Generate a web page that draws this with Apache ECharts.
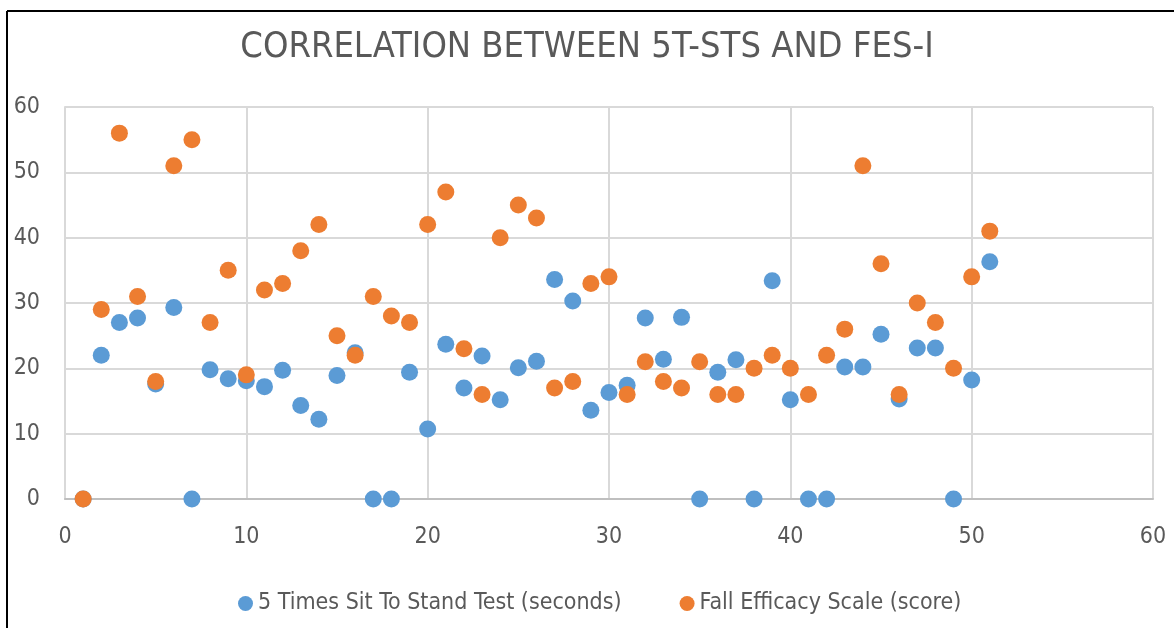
<html>
<head>
<meta charset="utf-8">
<title>Correlation between 5T-STS and FES-I</title>
<script src="https://cdn.jsdelivr.net/npm/echarts@6/dist/echarts.min.js"></script>
</head>
<body>
<style>
    html, body, #main {
        width: 100%;
        height: 100%;
        margin: 0;
        background: #fff;
    }
</style>
<div id="main"></div>

<script>

// participant number 1..51
var participants = [];
for (var i = 1; i <= 51; i++) participants.push(i);

// 5 Times Sit To Stand Test (seconds)
var stsValues = [
    0, 22, 27, 27.7, 17.6, 29.3, 0, 19.8, 18.4, 18.1,
    17.2, 19.7, 14.3, 12.2, 18.9, 22.4, 0, 0, 19.4, 10.7,
    23.7, 17, 21.9, 15.2, 20.1, 21.1, 33.6, 30.3, 13.6, 16.3,
    17.4, 27.7, 21.4, 27.8, 0, 19.4, 21.3, 0, 33.4, 15.2,
    0, 0, 20.2, 20.2, 25.2, 15.3, 23.1, 23.1, 0, 18.2,
    36.3
];

// Fall Efficacy Scale (score)
var fesValues = [
    0, 29, 56, 31, 18, 51, 55, 27, 35, 19,
    32, 33, 38, 42, 25, 22, 31, 28, 27, 42,
    47, 23, 16, 40, 45, 43, 17, 18, 33, 34,
    16, 21, 18, 17, 21, 16, 16, 20, 22, 20,
    16, 22, 26, 51, 36, 16, 30, 27, 20, 34,
    41
];

var seriesNames = ['5 Times Sit To Stand Test (seconds)', 'Fall Efficacy Scale (score)'];

function pairs(values) {
    return participants.map(function(p, i) { return [p, values[i]]; });
}

var myChart = echarts.init(document.getElementById('main'));

var font = "'DejaVu Sans Condensed', 'Open Sans', sans-serif";

option = {
    backgroundColor: '#ffffff',
    color: ['#5B9BD5', '#ED7D31'],
    title: {
        text: 'CORRELATION BETWEEN 5T-STS AND FES-I',
        left: 'center',
        top: 25,
        textStyle: {
            fontFamily: font,
            fontWeight: 'normal',
            fontSize: 36,
            color: '#595959'
        }
    },
    legend: {
        bottom: 8,
        left: 233,
        itemGap: 58,
        itemWidth: 15,
        itemHeight: 15,
        textStyle: { fontFamily: font, fontSize: 23, color: '#595959' },
        data: [
            { name: seriesNames[0], icon: 'circle' },
            { name: seriesNames[1], icon: 'circle' }
        ]
    },
    grid: {
        left: 65,
        right: 21,
        top: 107,
        bottom: 129,
        containLabel: false
    },
    xAxis: {
        type: 'value',
        min: 0,
        max: 60,
        interval: 10,
        axisLine: { show: true, onZero: false, lineStyle: { color: '#BFBFBF', width: 2 } },
        axisTick: { show: false },
        axisLabel: { fontFamily: font, fontSize: 23, color: '#595959', margin: 27 },
        splitLine: { show: true, lineStyle: { color: '#D9D9D9', width: 2 } }
    },
    yAxis: {
        type: 'value',
        min: 0,
        max: 60,
        interval: 10,
        axisLine: { show: true, lineStyle: { color: '#D9D9D9', width: 2 } },
        axisTick: { show: false },
        axisLabel: { fontFamily: font, fontSize: 23, color: '#595959', margin: 25 },
        splitLine: { show: true, lineStyle: { color: '#D9D9D9', width: 2 } }
    },
    graphic: [
        { type: 'line', shape: { x1: 7, y1: 11, x2: 1174, y2: 11 }, style: { stroke: '#000', lineWidth: 2 } },
        { type: 'line', shape: { x1: 7, y1: 11, x2: 7, y2: 628 }, style: { stroke: '#000', lineWidth: 2 } },
        { type: 'line', shape: { x1: 1153, y1: 107, x2: 1153, y2: 499 }, style: { stroke: '#D9D9D9', lineWidth: 2 } }
    ],
    series: [
        {
            name: seriesNames[0],
            type: 'scatter',
            symbolSize: 17,
            itemStyle: { opacity: 1 },
            data: pairs(stsValues)
        },
        {
            name: seriesNames[1],
            type: 'scatter',
            symbolSize: 17,
            itemStyle: { opacity: 1 },
            data: pairs(fesValues)
        }
    ]
};
myChart.setOption(option);

</script>
</body>
</html>
